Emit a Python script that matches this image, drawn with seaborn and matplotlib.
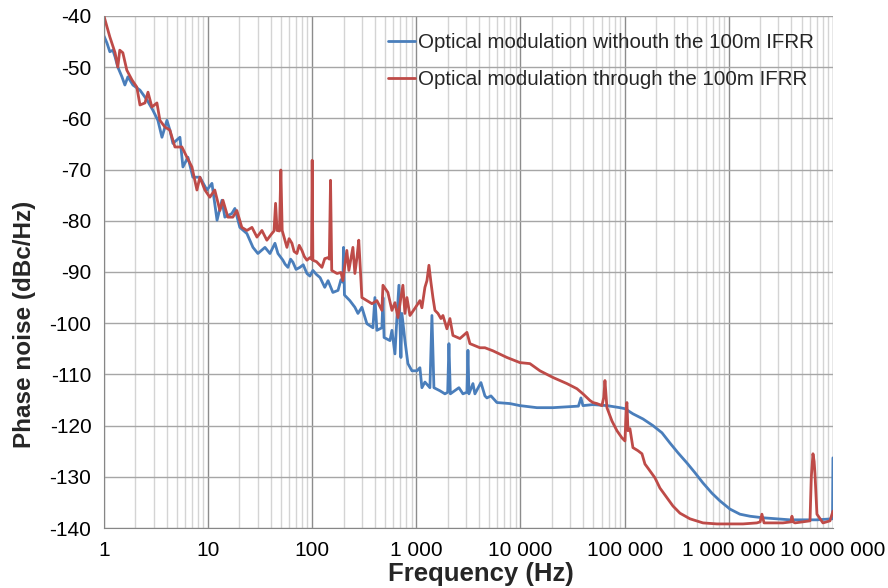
import matplotlib.pyplot as plt
import matplotlib.ticker as mticker
import pandas as pd
import seaborn as sns

# Optical modulation without the 100m IFRR (blue)
freq_without = [1, 1.07, 1.14, 1.22, 1.28, 1.36, 1.49, 1.59, 1.70, 1.90, 2.22, 2.59, 2.95, 3.30, 3.61,
                4.03, 4.30, 4.60, 5.37, 5.74, 6.41, 7.15, 8.35, 9.75, 10.9, 11.6, 12.2, 13.6, 14.5,
                16.9, 18.1, 20.2, 23.6, 27.0, 30.1, 35.2, 39.3, 43.9, 46.9, 52.3, 55.0, 58.5, 62.0,
                65.3, 70.0, 76.2, 82.0, 89.0, 95.0, 101.6, 110, 119, 132, 142, 158, 177, 189, 197,
                200, 204, 230, 257, 275, 300, 335, 383, 400, 418, 467, 478, 490, 558, 583, 623, 651,
                680, 711, 727, 777, 830, 907, 1013, 1082, 1131, 1209, 1350, 1411, 1475, 1684, 1881,
                2000, 2055, 2120, 2564, 2801, 3060, 3129, 3200, 3494, 3651, 4170, 4555, 4762, 5202,
                5938, 7917, 9876, 14380, 20490, 29830, 36000, 38060, 39780, 49620, 67610, 90130,
                100700, 120100, 149900, 186900, 228100, 272300, 324900, 396500, 473300, 564900,
                689300, 822500, 1.026e6, 1.28e6, 1.60e6, 2.13e6, 2.90e6, 3.87e6, 5.15e6, 7.02e6,
                9.9e6, 1e7]
noise_without = [-43.9, -45.3, -47.0, -46.7, -48.0, -50.0, -51.9, -53.5, -51.9, -53.5, -54.5, -56.4,
                 -58.4, -60.4, -63.7, -60.4, -62.3, -64.9, -63.7, -69.5, -67.6, -71.5, -71.5, -74.0,
                 -72.7, -76.6, -79.9, -76.0, -79.3, -78.6, -77.6, -81.3, -82.5, -85.2, -86.4, -85.2,
                 -86.4, -84.4, -86.4, -87.7, -88.5, -89.1, -87.5, -88.1, -89.5, -89.1, -88.6, -90.3,
                 -90.8, -89.7, -90.5, -91.1, -93.0, -91.7, -94.0, -93.6, -91.5, -92.0, -85.2, -94.5,
                 -95.6, -96.9, -98.1, -96.9, -100.1, -100.9, -95.0, -101.4, -100.9, -95.0, -102.8,
                 -103.4, -101.4, -106.0, -98.9, -92.6, -106.7, -98.1, -103.4, -107.9, -109.3,
                 -109.3, -108.7, -112.6, -111.5, -112.6, -98.5, -112.6, -113.2, -113.8, -113.5,
                 -104.0, -113.8, -112.6, -113.8, -113.5, -105.3, -113.8, -111.8, -113.8, -111.6,
                 -114.2, -114.6, -114.2, -115.5, -115.7, -116.1, -116.5, -116.5, -116.3, -116.2,
                 -114.6, -116.1, -115.9, -116.1, -116.5, -116.7, -117.7, -118.7, -120.0, -121.4,
                 -123.4, -125.3, -127.3, -129.2, -131.2, -133.2, -134.7, -136.3, -137.3, -137.7,
                 -138.0, -138.2, -138.4, -138.4, -138.4, -138.2, -126.3]

# Optical modulation through the 100m IFRR (red)
freq_through = [1, 1.14, 1.28, 1.36, 1.42, 1.52, 1.66, 1.86, 2.07, 2.22, 2.48, 2.65, 2.89, 3.23, 3.45,
                3.85, 4.30, 4.81, 5.61, 6.27, 7.00, 7.82, 8.35, 9.33, 10.4, 11.6, 13.0, 13.9, 15.5,
                17.3, 18.9, 21.1, 23.6, 26.4, 29.5, 32.9, 36.7, 41.0, 43.0, 44.5, 46.0, 48.5, 50.0,
                51.5, 57.2, 60.0, 63.9, 67.0, 71.3, 75.0, 79.7, 84.0, 89.0, 95.1, 98.5, 100, 101.5,
                110, 124, 132, 142, 146, 150, 154, 173, 189, 197, 215, 225, 246, 257, 269, 280, 300,
                335, 375, 418, 467, 478, 533, 583, 623, 666, 711, 743, 777, 812, 868, 969, 1082,
                1131, 1209, 1264, 1321, 1380, 1443, 1508, 1612, 1722, 1800, 1966, 2101, 2245, 2621,
                3060, 3270, 4079, 4555, 5437, 7410, 9876, 12320, 15370, 20490, 27920, 34830, 39780,
                46440, 49620, 54200, 60530, 63000, 64690, 67610, 75520, 84360, 94210, 100700,
                104000, 105200, 107600, 112400, 120100, 134200, 146600, 156600, 167400, 182900,
                195400, 218300, 254800, 290900, 339600, 423700, 564900, 769500, 1.026e6, 1.37e6,
                1.86e6, 2.0e6, 2.08e6, 2.18e6, 3.31e6, 3.95e6, 4.04e6, 4.15e6, 4.32e6, 6.02e6,
                6.2e6, 6.43e6, 6.6e6, 6.72e6, 7.02e6, 8.02e6, 9.36e6, 1e7]
noise_through = [-40.0, -44.1, -47.2, -50.0, -46.7, -47.2, -50.6, -52.5, -53.9, -57.4, -57.0, -54.9,
                 -57.8, -57.0, -60.4, -61.7, -62.3, -65.6, -65.6, -67.6, -69.5, -74.0, -71.5, -74.0,
                 -75.4, -74.0, -78.0, -76.0, -79.3, -79.3, -78.0, -81.3, -81.9, -81.3, -83.2, -81.9,
                 -83.8, -82.5, -82.0, -76.6, -81.9, -82.0, -70.1, -81.9, -85.2, -83.5, -84.4, -86.0,
                 -86.4, -84.8, -85.8, -87.0, -87.7, -87.2, -87.5, -68.2, -87.7, -88.0, -89.1, -87.4,
                 -87.2, -87.5, -72.1, -89.7, -90.3, -90.1, -91.7, -85.8, -89.7, -85.2, -90.3, -87.2,
                 -83.8, -95.0, -95.6, -96.2, -95.6, -97.5, -92.6, -94.0, -97.5, -96.0, -98.9, -95.0,
                 -92.6, -98.1, -95.0, -98.5, -97.1, -95.6, -97.0, -93.0, -91.7, -88.7, -92.0, -95.0,
                 -97.5, -98.1, -99.1, -98.5, -101.1, -99.1, -102.4, -103.0, -101.8, -104.0, -104.8,
                 -104.8, -105.4, -106.7, -107.7, -107.9, -109.3, -110.6, -111.8, -112.8, -113.8,
                 -115.1, -115.5, -115.7, -116.1, -114.5, -111.2, -116.5, -119.1, -121.0, -122.4,
                 -123.0, -116.0, -115.5, -121.0, -120.6, -124.3, -124.9, -125.5, -127.5, -128.3,
                 -129.4, -130.2, -132.2, -134.1, -135.7, -137.1, -138.2, -139.0, -139.2, -139.2,
                 -139.2, -139.0, -138.8, -137.3, -139.0, -139.0, -138.8, -137.7, -138.8, -139.0,
                 -138.6, -130.0, -125.5, -127.0, -129.4, -137.3, -139.0, -138.6, -136.7]

label_without = "Optical modulation withouth the 100m IFRR"
label_through = "Optical modulation through the 100m IFRR"
x_ticks = [1, 10, 100, 1000, 10000, 100000, 1000000, 10000000]
y_ticks = [-140, -130, -120, -110, -100, -90, -80, -70, -60, -50, -40]

df = pd.concat([
    pd.DataFrame({"freq": freq_without, "noise": noise_without, "serie": label_without}),
    pd.DataFrame({"freq": freq_through, "noise": noise_through, "serie": label_through}),
], ignore_index=True)

sns.set_style("white")
plt.rcParams["font.family"] = ["Liberation Sans", "DejaVu Sans"]
plt.rcParams["axes.unicode_minus"] = False

fig = plt.figure(figsize=(8.88, 5.88), dpi=100)
ax = fig.add_axes([0.117, 0.102, 0.821, 0.871])

sns.lineplot(data=df, x="freq", y="noise", hue="serie", palette=["#4a7ebb", "#be4b48"],
             estimator=None, sort=False, linewidth=2, ax=ax)

ax.set_xscale("log")
ax.set_xlim(1, 1e7)
ax.set_ylim(-140, -40)
ax.set_xticks(x_ticks)
ax.set_yticks(y_ticks)
ax.xaxis.set_minor_locator(mticker.LogLocator(base=10, subs=range(2, 10), numticks=20))
ax.xaxis.set_major_formatter(mticker.FuncFormatter(lambda v, p: f"{v:,.0f}".replace(",", " ")))
ax.xaxis.set_minor_formatter(mticker.NullFormatter())

# grades: verticais maiores escuras, menores claras
ax.set_axisbelow(True)
ax.grid(which="major", axis="x", color="#8c8c8c", linewidth=1)
ax.grid(which="minor", axis="x", color="#d4d4d4", linewidth=1)
ax.grid(which="major", axis="y", color="#a6a6a6", linewidth=1)

for side in ["top", "right"]:
    ax.spines[side].set_visible(False)
for side in ["left", "bottom"]:
    ax.spines[side].set_color("#868686")
ax.tick_params(axis="both", which="major", direction="out", length=5, color="#868686",
               labelsize=15, labelcolor="black", pad=4)
ax.tick_params(axis="x", which="minor", length=0)

ax.set_xlabel("Frequency (Hz)", fontsize=18.5, fontweight="bold")
ax.set_ylabel("Phase noise (dBc/Hz)", fontsize=17.5, fontweight="bold")
ax.xaxis.set_label_coords(0.517, -0.066)
ax.yaxis.set_label_coords(-0.093, 0.397)

ax.legend(frameon=False, loc="upper left", bbox_to_anchor=(0.437, 0.944),
          bbox_transform=fig.transFigure, handlelength=1.3, handletextpad=0.15,
          labelspacing=0.9, borderpad=0, borderaxespad=0, fontsize=14.8)

fig.savefig("out.png", dpi=100)
